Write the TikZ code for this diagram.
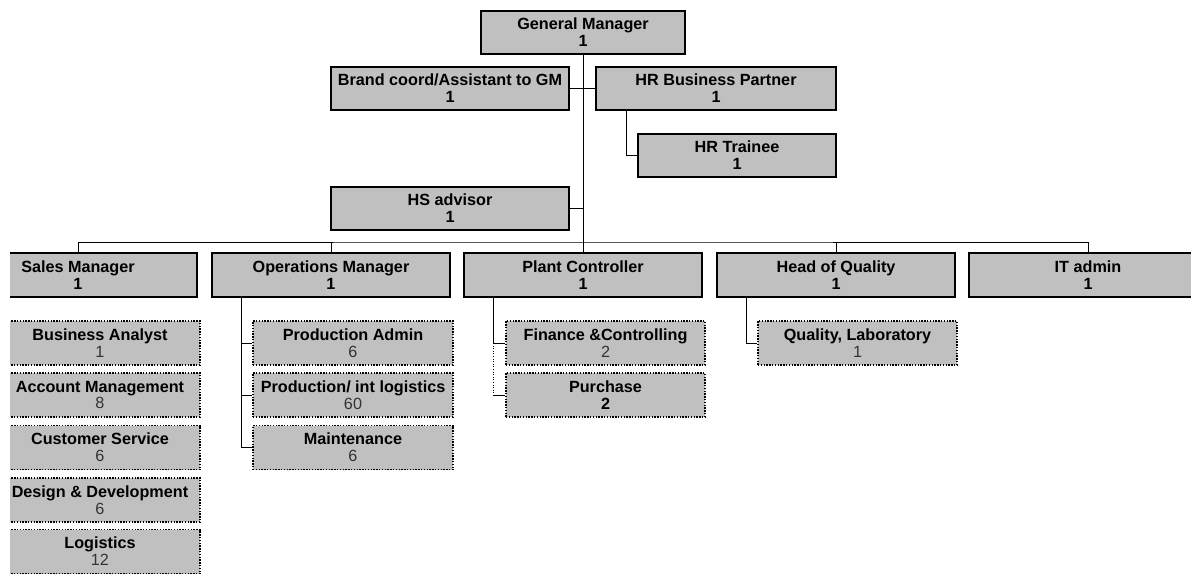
\documentclass[tikz,border=0pt]{standalone}
\usepackage{fontspec}
\setmainfont{Liberation Sans}
\definecolor{boxgray}{HTML}{C0C0C0}
\definecolor{numgray}{HTML}{333333}
\newcommand{\headcount}[1]{{\mdseries\color{numgray}#1}}

\begin{document}
\begin{tikzpicture}[x=1pt, y=-1pt,
  box/.style={rectangle, fill=boxgray, inner sep=0pt, align=center,
              font=\fontsize{16.2}{16.8}\selectfont\bfseries},
  head_box/.style={box, draw, line width=1.6pt, minimum width=238pt,
                   minimum height=44pt},
  sub_box/.style={box, draw, line width=1.7pt, dash pattern=on 1.4pt off 1.4pt,
                  minimum width=200pt, minimum height=44pt},
  link/.style={draw, line width=0.8pt}
]
  \useasboundingbox (0,0) rectangle (1191,575);
  \clip (10,0) rectangle (1191,575);

  % top of the chart
  \node[head_box, minimum width=204pt, minimum height=43pt] (gm) at (583,32.5)
    {General Manager\\1};
  \node[head_box, minimum height=43pt] (brand) at (450,88.5)
    {Brand coord/Assistant to GM\\1};
  \node[head_box, minimum width=240pt, minimum height=43pt] (hrbp) at (716,88.5)
    {HR Business Partner\\1};
  \node[head_box, minimum width=198pt, minimum height=43pt] (hrtr) at (737,155.5)
    {HR Trainee\\1};
  \node[head_box, minimum height=43pt] (hs) at (450,208.5)
    {HS advisor\\1};

  % managers
  \node[head_box] (sales) at (78,275)   {Sales Manager\\1};
  \node[head_box] (ops)   at (331,275)  {Operations Manager\\1};
  \node[head_box] (plant) at (583,275)  {Plant Controller\\1};
  \node[head_box] (hoq)   at (836,275)  {Head of Quality\\1};
  \node[head_box] (it)    at (1088,275) {IT admin\\1};

  % sales teams
  \node[sub_box] (ba) at (100,343)   {Business Analyst\\\headcount{1}};
  \node[sub_box] (am) at (100,395)   {Account Management\\\headcount{8}};
  \node[sub_box] (cs) at (100,447.5) {Customer Service\\\headcount{6}};
  \node[sub_box] (dd) at (100,500)   {Design \& Development\\\headcount{6}};
  \node[sub_box] (lg) at (100,551.5) {Logistics\\\headcount{12}};

  % operations teams
  \node[sub_box] (pa) at (353,343)   {Production Admin\\\headcount{6}};
  \node[sub_box] (pl) at (353,395)   {Production/ int logistics\\\headcount{60}};
  \node[sub_box] (mt) at (353,447.5) {Maintenance\\\headcount{6}};

  % controlling teams
  \node[sub_box, minimum width=199pt] (fin) at (605.5,343)
    {Finance \&Controlling\\\headcount{2}};
  \node[sub_box, minimum width=199pt] (pur) at (605.5,395)
    {Purchase\\2};

  % quality team
  \node[sub_box, minimum width=199pt] (ql) at (857.5,343)
    {Quality, Laboratory\\\headcount{1}};

  % connectors
  \coordinate (bus) at (583,242);
  \draw[link] (gm.south) -- (bus);
  \draw[link] (brand.east) -- (hrbp.west);
  \draw[link] ([xshift=-90pt]hrbp.south) |- (hrtr.west);
  \draw[link] (hs.east) -- (hs.east -| bus);
  \draw[link] (sales.north) |- (bus) -| (it.north);
  \draw[link] (ops.north) -- (ops.north |- bus);
  \draw[link] (plant.north) -- (bus);
  \draw[link] (hoq.north) -- (hoq.north |- bus);

  \coordinate (ops_tap) at ([xshift=-90pt]ops.south);
  \draw[link] (ops_tap) |- (pa.west);
  \draw[link] (ops_tap) |- (pl.west);
  \draw[link] (ops_tap) |- (mt.west);

  \coordinate (pc_tap) at ([xshift=-90pt]plant.south);
  \draw[link] (pc_tap) |- (fin.west);
  \draw[line width=0.6pt, dotted] (pc_tap |- fin.west) -- (pc_tap |- pur.west);
  \draw[link] (pc_tap |- pur.west) -- (pur.west);

  \draw[link] ([xshift=-90pt]hoq.south) |- (ql.west);
\end{tikzpicture}
\end{document}
